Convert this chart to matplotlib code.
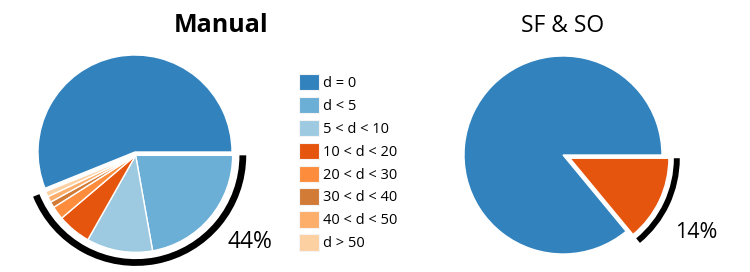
import numpy as np
import matplotlib
matplotlib.use('Agg')
import matplotlib.pyplot as plt
from matplotlib.patches import Wedge, Patch

plt.rcParams['font.family'] = ['Open Sans', 'DejaVu Sans']

# distance bins and their colours
labels = ["d = 0", "d < 5", "5 < d < 10", "10 < d < 20",
          "20 < d < 30", "30 < d < 40", "40 < d < 50", "d > 50"]
colors = ["#3182bd", "#6baed6", "#9ecae1", "#e6550d",
          "#fd8d3c", "#d17b37", "#fdae6b", "#fdd0a2"]

# share of each bin (%)
manual = [56.1, 22.2, 11.0, 5.6, 2.2, 1.0, 1.0, 0.9]
sf_so = [86.0, 14.0]
sf_so_colors = [colors[0], colors[3]]

W, H = 750, 272
fig = plt.figure(figsize=(W / 100, H / 100), dpi=100)


def pie_axes(cx, cy, r, lim=1.3):
    # square axes in pixel units so that one data unit = pie radius
    s = 2 * lim * r
    ax = fig.add_axes([(cx - s / 2) / W, (H - cy - s / 2) / H, s / W, s / H])
    ax.set_xlim(-lim, lim)
    ax.set_ylim(-lim, lim)
    ax.axis('off')
    return ax


def draw_pie(ax, values, cols, explode, arc_r, arc_w, lim=1.3):
    total = float(sum(values))
    frac0 = values[0] / total
    wedges, _ = ax.pie(values, colors=cols, startangle=360 * frac0,
                       counterclock=False, radius=1,
                       wedgeprops=dict(edgecolor='white', linewidth=1))
    sweep = 360 * (1 - frac0)
    mid = np.deg2rad(-sweep / 2)
    off = (explode * np.cos(mid), explode * np.sin(mid))
    for w in wedges[1:]:
        w.set_center(off)
    ax.add_patch(Wedge(off, arc_r, -sweep, 0, width=arc_w,
                       facecolor='black', edgecolor='none'))
    ax.set_xlim(-lim, lim)
    ax.set_ylim(-lim, lim)


ax1 = pie_axes(135, 152, 97)
draw_pie(ax1, manual, colors, 0.035, 1.14, 0.07)

ax2 = pie_axes(563, 155, 99)
draw_pie(ax2, sf_so, sf_so_colors, 0.077, 1.11, 0.06)

fig.text(221 / W, 1 - 26 / H, "Manual", ha='center', va='center',
         fontsize=18, fontweight='bold')
fig.text(563 / W, 1 - 26 / H, "SF & SO", ha='center', va='center',
         fontsize=16.5, fontweight='medium')
fig.text(250 / W, 1 - 242 / H, "44%", ha='center', va='center', fontsize=16.5)
fig.text(696 / W, 1 - 233 / H, "14%", ha='center', va='center', fontsize=15.5)

handles = [Patch(facecolor=c, edgecolor='#f4f4f4', linewidth=0.8, label=l)
           for c, l in zip(colors, labels)]
fig.legend(handles=handles, loc='upper left',
           bbox_to_anchor=(299 / W, 1 - 74 / H), frameon=False,
           fontsize=10.5, handlelength=1.35, handleheight=1.35,
           handletextpad=0.3, labelspacing=0.4, borderpad=0,
           borderaxespad=0)

fig.savefig("out.png", dpi=100)
